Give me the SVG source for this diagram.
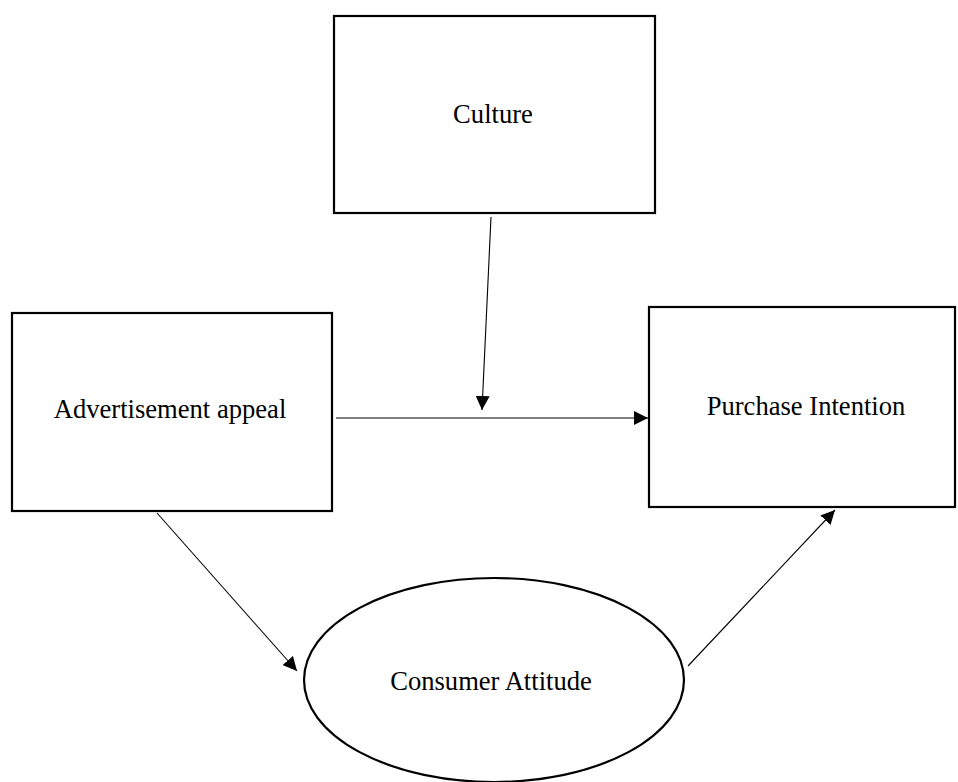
<svg xmlns="http://www.w3.org/2000/svg" width="958" height="782" viewBox="0 0 958 782">
<style>
.box{fill:#fff;stroke:#000;stroke-width:2.2}
.lbl{font-family:"Liberation Serif","Times New Roman",serif;font-size:26.6px;fill:#000;text-anchor:middle}
.conn{stroke:#000;stroke-width:1.1;fill:none;marker-end:url(#ah)}
</style>
<defs>
<marker id="ah" markerUnits="userSpaceOnUse" markerWidth="14" markerHeight="14" viewBox="0 0 14 14" refX="14" refY="7" orient="auto">
<path d="M0,0 L14,7 L0,14 Z" fill="#000"/>
</marker>
</defs>
<rect width="958" height="782" fill="#fff"/>
<g id="culture">
<rect class="box" x="334" y="16" width="321" height="197"/>
<text class="lbl" x="493" y="123">Culture</text>
</g>
<g id="advertisement">
<rect class="box" x="12" y="313" width="320" height="198"/>
<text class="lbl" x="170" y="418">Advertisement appeal</text>
</g>
<g id="purchase">
<rect class="box" x="649" y="307" width="306" height="200"/>
<text class="lbl" x="806" y="415">Purchase Intention</text>
</g>
<g id="attitude">
<ellipse class="box" cx="494" cy="680" rx="190" ry="102"/>
<text class="lbl" x="491" y="690">Consumer Attitude</text>
</g>
<g id="connectors">
<line class="conn" x1="336" y1="418" x2="648" y2="418"/>
<line class="conn" x1="491" y1="217" x2="482" y2="410"/>
<line class="conn" x1="157" y1="513" x2="297" y2="671"/>
<line class="conn" x1="688" y1="666" x2="835" y2="510"/>
</g>
</svg>
